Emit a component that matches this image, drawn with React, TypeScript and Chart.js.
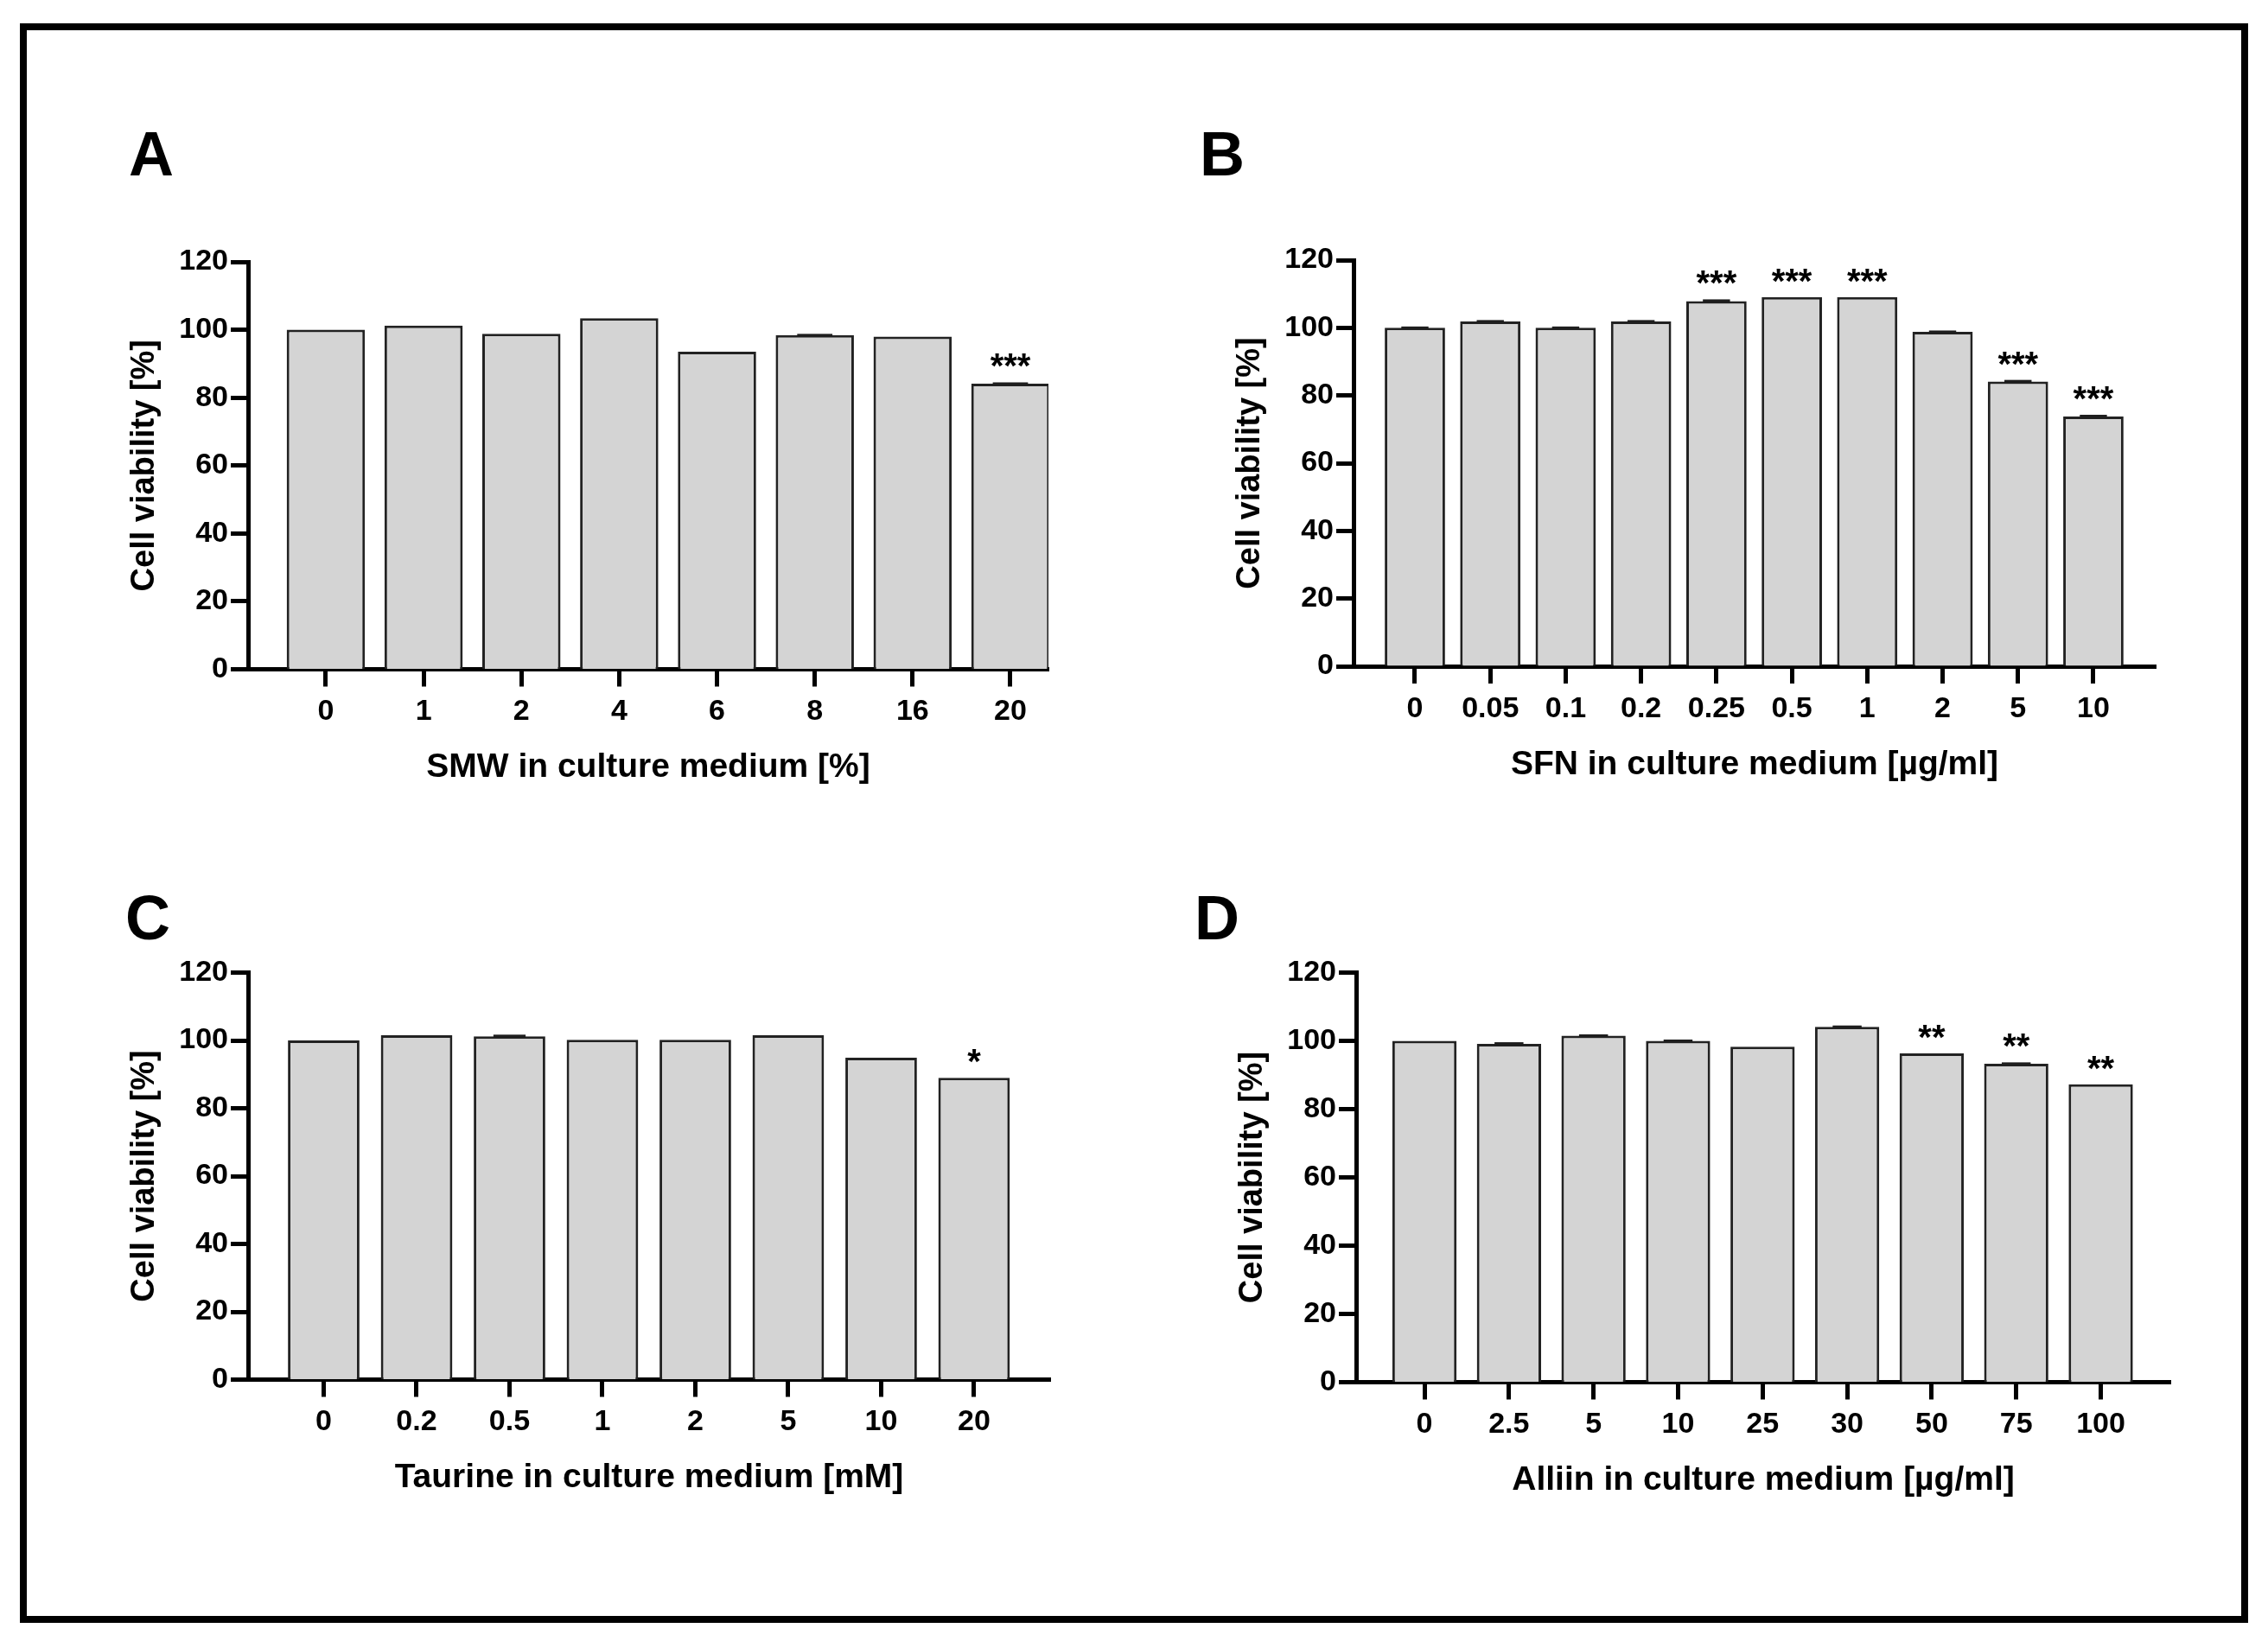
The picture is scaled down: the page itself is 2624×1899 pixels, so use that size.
import React, { useEffect, useRef } from 'react';
import { Chart, registerables } from 'chart.js';

Chart.register(...registerables);

// ---------------- data ----------------
const smwLabels = ['0', '1', '2', '4', '6', '8', '16', '20'];
const smwValues = [100, 101.2, 98.8, 103.4, 93.5, 98.4, 98.0, 84.1];
const smwErrors = [0, 0, 0, 0, 0, 0.3, 0, 0.4];
const smwSig = ['', '', '', '', '', '', '', '***'];

const sfnLabels = ['0', '0.05', '0.1', '0.2', '0.25', '0.5', '1', '2', '5', '10'];
const sfnValues = [100, 101.9, 100, 101.9, 107.9, 109.1, 109.1, 98.8, 84.1, 73.8];
const sfnErrors = [0.2, 0.2, 0.1, 0.2, 0.5, 0, 0, 0.4, 0.5, 0.5];
const sfnSig = ['', '', '', '', '***', '***', '***', '', '***', '***'];

const taurineLabels = ['0', '0.2', '0.5', '1', '2', '5', '10', '20'];
const taurineValues = [100, 101.5, 101.2, 100.2, 100.2, 101.5, 94.9, 89.0];
const taurineErrors = [0, 0, 0.5, 0, 0, 0, 0, 0];
const taurineSig = ['', '', '', '', '', '', '', '*'];

const alliinLabels = ['0', '2.5', '5', '10', '25', '30', '50', '75', '100'];
const alliinValues = [100, 99.1, 101.5, 100, 98.3, 104.1, 96.3, 93.3, 87.3];
const alliinErrors = [0, 0.5, 0.4, 0.3, 0, 0.4, 0, 0.4, 0];
const alliinSig = ['', '', '', '', '', '', '**', '**', '**'];

const yTickValues = [0, 20, 40, 60, 80, 100, 120];
const yTitle = 'Cell viability [%]';

const FONT = "'Liberation Sans', Arial, Helvetica, sans-serif";

type Panel = {
  letter: string;
  labels: string[];
  values: number[];
  errors: number[];
  sig: string[];
  xTitle: string;
  box: { left: number; top: number; width: number; height: number };
  pad: { left: number; right: number; top: number; bottom: number };
  xMin: number;
  xMax: number;
  barPct: number;
  letterPos: { left: number; top: number };
};

const panels: Panel[] = [
  {
    letter: 'A', labels: smwLabels, values: smwValues, errors: smwErrors, sig: smwSig,
    xTitle: 'SMW in culture medium [%]',
    box: { left: 0, top: 0, width: 1312, height: 950 },
    pad: { left: 137, right: 99, top: 303, bottom: 35.5 },
    xMin: -0.795, xMax: 7.389, barPct: 0.8,
    letterPos: { left: 149, top: 142 },
  },
  {
    letter: 'B', labels: sfnLabels, values: sfnValues, errors: sfnErrors, sig: sfnSig,
    xTitle: 'SFN in culture medium [µg/ml]',
    box: { left: 1312, top: 0, width: 1312, height: 950 },
    pad: { left: 104, right: 130, top: 301, bottom: 39 },
    xMin: -0.814, xMax: 9.826, barPct: 0.8,
    letterPos: { left: 1388, top: 142 },
  },
  {
    letter: 'C', labels: taurineLabels, values: taurineValues, errors: taurineErrors, sig: taurineSig,
    xTitle: 'Taurine in culture medium [mM]',
    box: { left: 0, top: 950, width: 1312, height: 949 },
    pad: { left: 137, right: 97, top: 175.5, bottom: 162.5 },
    xMin: -0.814, xMax: 7.819, barPct: 0.77,
    letterPos: { left: 145, top: 1026 },
  },
  {
    letter: 'D', labels: alliinLabels, values: alliinValues, errors: alliinErrors, sig: alliinSig,
    xTitle: 'Alliin in culture medium [µg/ml]',
    box: { left: 1312, top: 950, width: 1312, height: 949 },
    pad: { left: 107, right: 113, top: 175.5, bottom: 159.5 },
    xMin: -0.808, xMax: 8.823, barPct: 0.76,
    letterPos: { left: 1382, top: 1026 },
  },
];

const sigPlugin = {
  id: 'sigStars',
  afterDatasetsDraw(chart: any, _args: any, opts: any) {
    const sig: string[] = opts && opts.marks ? opts.marks : [];
    const errs: number[] = opts && opts.errors ? opts.errors : [];
    const vals: number[] = opts && opts.values ? opts.values : [];
    const meta = chart.getDatasetMeta(0);
    const yScale = chart.scales.y;
    const ctx = chart.ctx;
    ctx.save();
    // tiny SEM caps
    ctx.fillStyle = '#1e1e1e';
    meta.data.forEach((el: any, i: number) => {
      const e = errs[i];
      if (!e) return;
      const yTop = yScale.getPixelForValue(vals[i] + e);
      const h = Math.max(3, el.y - yTop + 1.5);
      const w = el.width * 0.45;
      ctx.fillRect(el.x - w / 2, el.y - h + 1.5, w, h);
    });
    ctx.fillStyle = '#000';
    ctx.font = `bold 40px ${FONT}`;
    ctx.textAlign = 'center';
    ctx.textBaseline = 'alphabetic';
    meta.data.forEach((el: any, i: number) => {
      const s = sig[i];
      if (!s) return;
      const e = errs[i] || 0;
      const yTop = yScale.getPixelForValue(vals[i] + e);
      ctx.fillText(s, el.x, Math.min(el.y, yTop) - 5);
    });
    ctx.restore();
  },
};

function PanelChart({ p }: { p: Panel }) {
  const ref = useRef<HTMLCanvasElement | null>(null);
  useEffect(() => {
    if (!ref.current) return;
    const tickFont = { family: FONT, size: 34, weight: 'bold' as const };
    const gridCfg = {
      drawOnChartArea: false,
      drawTicks: true,
      tickLength: 20,
      tickWidth: 5,
      tickColor: '#000',
      offset: false,
    };
    const borderCfg = { display: true, width: 5, color: '#000' };
    const chart = new Chart(ref.current, {
      type: 'bar',
      data: {
        datasets: [
          {
            data: p.values.map((v, i) => ({ x: i, y: v })),
            backgroundColor: '#d4d4d4',
            borderColor: '#222222',
            borderWidth: 3,
            barPercentage: p.barPct,
            categoryPercentage: 1,
          },
        ],
      },
      plugins: [sigPlugin],
      options: {
        animation: false,
        responsive: false,
        maintainAspectRatio: false,
        devicePixelRatio: 1,
        layout: { padding: p.pad },
        plugins: {
          legend: { display: false },
          tooltip: { enabled: false },
          sigStars: { marks: p.sig, errors: p.errors, values: p.values },
        } as any,
        scales: {
          x: {
            type: 'linear',
            min: p.xMin,
            max: p.xMax,
            bounds: 'data',
            offset: false,
            afterBuildTicks: (s: any) => {
              s.ticks = p.labels.map((_, i) => ({ value: i }));
            },
            afterFit: (s: any) => {
              s.height = 140;
            },
            ticks: {
              callback: (v: any) => p.labels[v] ?? '',
              autoSkip: false,
              maxRotation: 0,
              minRotation: 0,
              padding: 9,
              font: tickFont,
              color: '#000',
            },
            grid: gridCfg,
            border: borderCfg,
            title: {
              display: true,
              text: p.xTitle,
              font: { family: FONT, size: 39, weight: 'bold' },
              color: '#000',
              padding: { top: 0, bottom: 2.6 },
            },
          } as any,
          y: {
            min: 0,
            max: 120,
            afterBuildTicks: (s: any) => {
              s.ticks = yTickValues.map((v) => ({ value: v }));
            },
            afterFit: (s: any) => {
              s.width = 150;
            },
            ticks: {
              padding: 3,
              font: tickFont,
              color: '#000',
            },
            grid: gridCfg,
            border: borderCfg,
            title: {
              display: true,
              text: yTitle,
              font: { family: FONT, size: 38, weight: 'bold' },
              color: '#000',
              padding: { top: 8.2, bottom: 0 },
            },
          } as any,
        },
      },
    });
    return () => chart.destroy();
  }, [p]);
  return (
    <canvas
      ref={ref}
      width={p.box.width}
      height={p.box.height}
      style={{
        position: 'absolute',
        left: p.box.left,
        top: p.box.top,
        width: p.box.width,
        height: p.box.height,
      }}
    />
  );
}

export default function App() {
  return (
    <div
      style={{
        position: 'fixed',
        left: 0,
        top: 0,
        width: 2624,
        height: 1899,
        background: '#fff',
        overflow: 'hidden',
      }}
    >
      <div
        style={{
          position: 'absolute',
          left: 23,
          top: 27,
          width: 2578,
          height: 1851,
          border: '8px solid #000',
          boxSizing: 'border-box',
        }}
      />
      {panels.map((p) => (
        <PanelChart key={p.letter} p={p} />
      ))}
      {panels.map((p) => (
        <div
          key={'l' + p.letter}
          style={{
            position: 'absolute',
            left: p.letterPos.left,
            top: p.letterPos.top,
            fontFamily: FONT,
            fontWeight: 'bold',
            fontSize: 72,
            lineHeight: '72px',
            color: '#000',
          }}
        >
          {p.letter}
        </div>
      ))}
    </div>
  );
}
